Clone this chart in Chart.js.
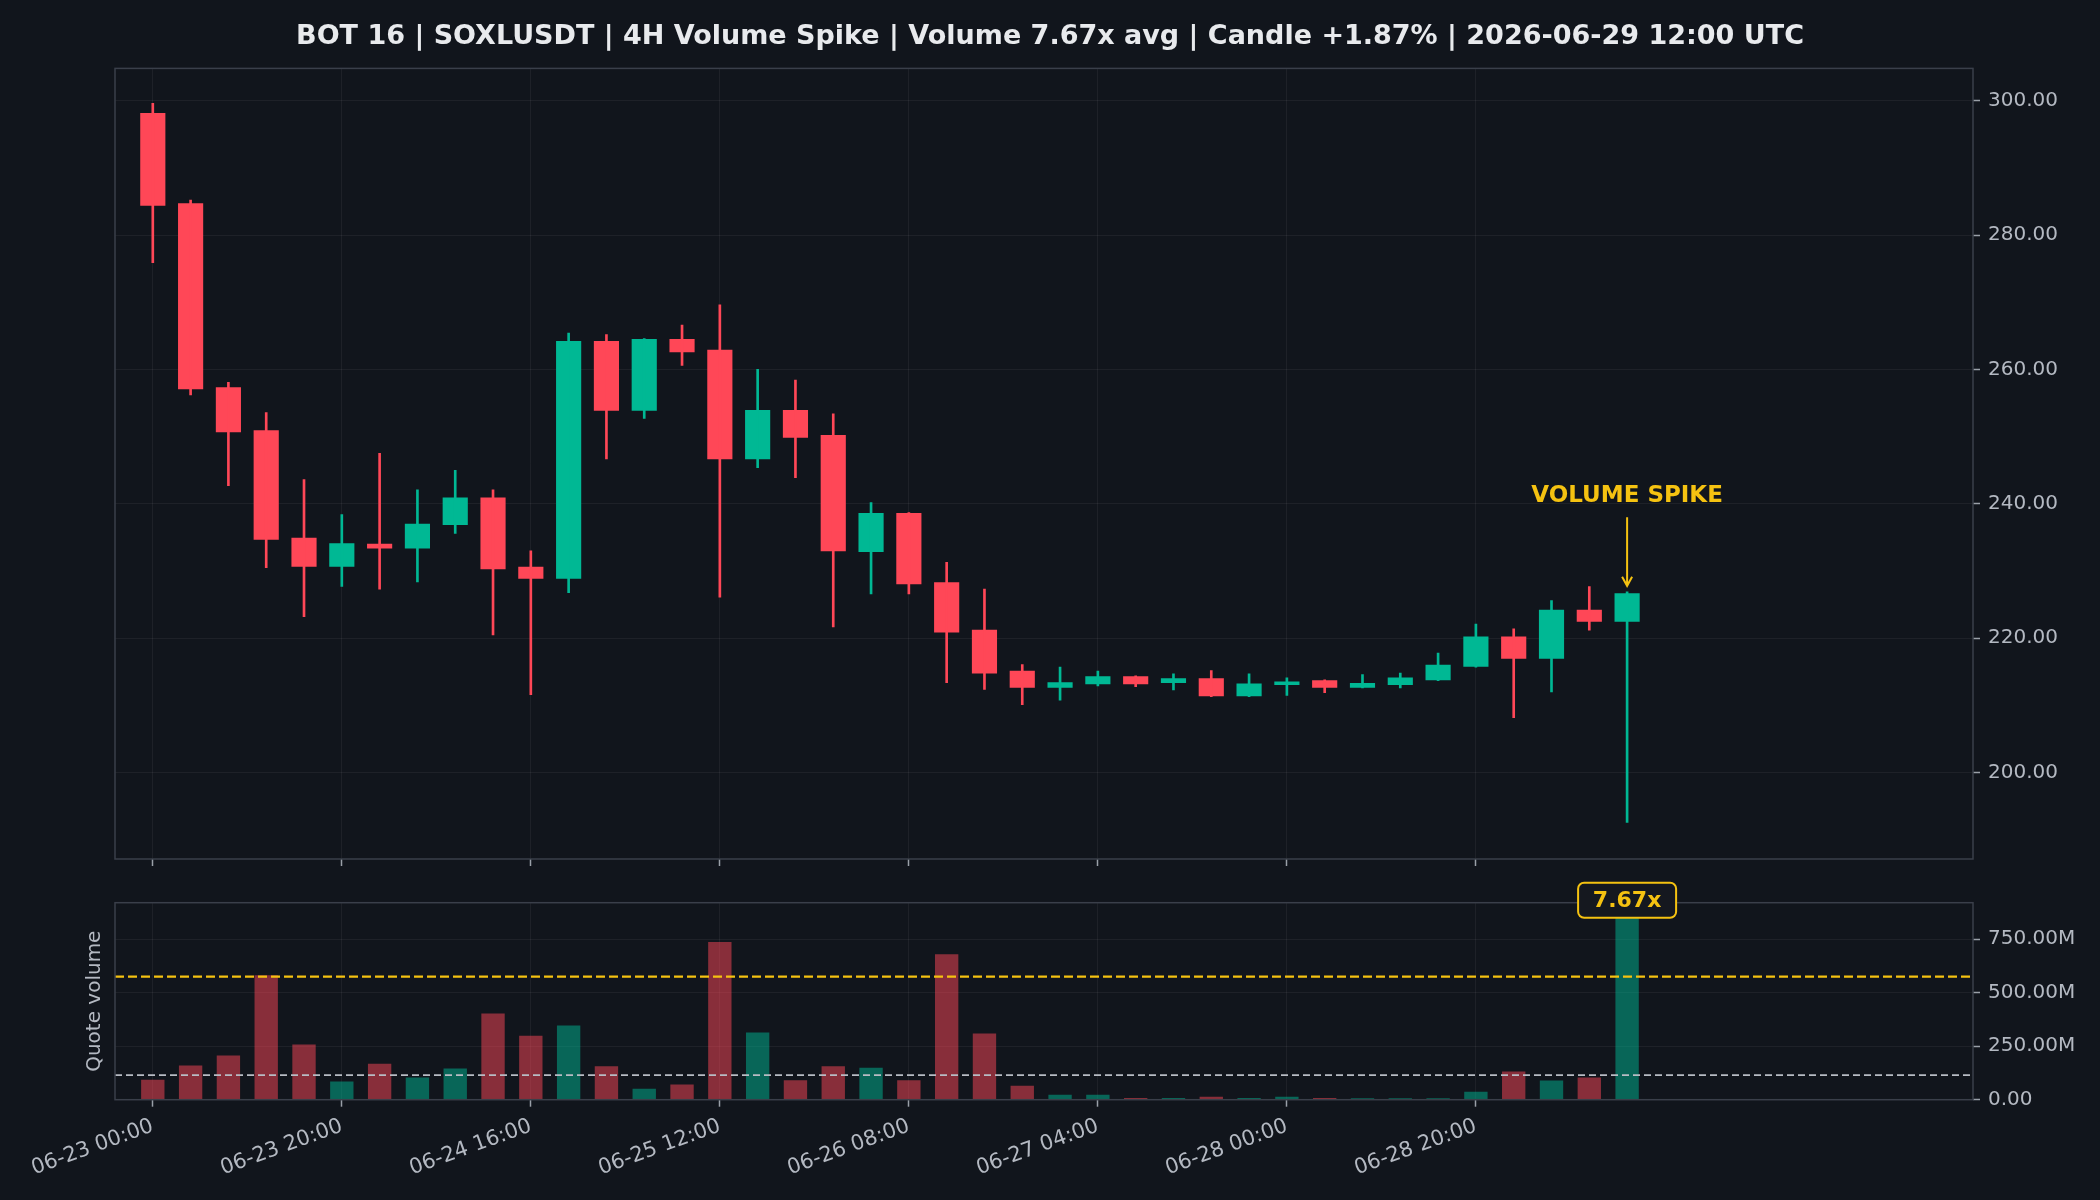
<!DOCTYPE html>
<html>
<head>
<meta charset="utf-8">
<title>SOXLUSDT 4H Volume Spike</title>
<script src="https://cdn.jsdelivr.net/npm/chart.js@4.4.1/dist/chart.umd.min.js"></script>
<style>
  html, body { margin: 0; padding: 0; background: #11151c; }
  #wrap { position: relative; width: 2100px; height: 1200px; }
  #priceChart { position: absolute; left: 0; top: 0; }
  #volumeChart { position: absolute; left: 0; top: 870px; }
</style>
</head>
<body>
<div id="wrap">
  <canvas id="priceChart" width="2100" height="879"></canvas>
  <canvas id="volumeChart" width="2100" height="330"></canvas>
</div>
<script>
// 4H candles, 06-23 00:00 -> 06-29 12:00
const opens  = [298.1, 284.7, 257.3, 250.9, 234.9, 230.7, 234.0, 233.4, 236.9, 240.9,
                230.6, 228.9, 264.2, 253.9, 264.5, 262.9, 246.7, 253.9, 250.2, 232.9,
                238.6, 228.3, 221.2, 215.1, 212.7, 213.2, 214.3, 213.4, 214.0, 211.4,
                213.1, 213.7, 212.7, 213.1, 213.8, 215.8, 220.2, 217.0, 224.2, 222.5];
const highs  = [299.6, 285.2, 258.1, 253.6, 243.6, 238.4, 247.5, 242.1, 245.0, 242.1,
                233.0, 265.4, 265.2, 264.6, 266.6, 269.6, 260.0, 258.4, 253.4, 240.2,
                238.7, 231.3, 227.3, 216.1, 215.7, 215.1, 214.4, 214.7, 215.2, 214.7,
                214.1, 213.8, 214.6, 214.8, 217.8, 222.1, 221.4, 225.6, 227.7, 226.9];
const lows   = [275.9, 256.2, 242.7, 230.5, 223.2, 227.7, 227.3, 228.4, 235.6, 220.5,
                211.6, 226.8, 246.7, 252.7, 260.6, 226.1, 245.4, 243.9, 221.7, 226.6,
                226.6, 213.4, 212.4, 210.1, 210.8, 212.9, 212.8, 212.3, 211.3, 211.3,
                211.5, 211.9, 212.6, 212.6, 213.7, 215.7, 208.2, 212.0, 221.2, 192.6];
const closes = [284.4, 257.1, 250.7, 234.7, 230.7, 234.1, 233.4, 237.0, 240.9, 230.3,
                228.9, 264.2, 253.9, 264.5, 262.6, 246.7, 253.9, 249.9, 233.0, 238.6,
                228.1, 220.9, 214.8, 212.7, 213.4, 214.3, 213.2, 214.0, 211.4, 213.2,
                213.5, 212.7, 213.3, 214.1, 216.0, 220.2, 217.0, 224.2, 222.5, 226.66];

// quote volume, millions
const volumes = [92, 158, 205, 580, 256, 83, 167, 102, 144, 402,
                 298, 345, 155, 50, 69, 736, 313, 89, 155, 148,
                 89, 678, 308, 64, 22, 22, 6, 6, 12, 6,
                 12, 6, 5, 5, 5, 36, 130, 88, 102, 882];

const tickIndex  = [0, 5, 10, 15, 20, 25, 30, 35];
const tickLabels = ["06-23 00:00", "06-23 20:00", "06-24 16:00", "06-25 12:00",
                    "06-26 08:00", "06-27 04:00", "06-28 00:00", "06-28 20:00"];
const priceTicks  = [200, 220, 240, 260, 280, 300];
const volumeTicks = [0, 250, 500, 750];

const avgVolume = 115;
const spikeLevel = 575;
const spikeIndex = 39;
const spikeRatio = "7.67x";
const spikeTextPrice = 241.1;
const arrowFrom = 238.0;
const arrowTo = 227.8;

const titleText = "BOT 16 | SOXLUSDT | 4H Volume Spike | Volume 7.67x avg | Candle +1.87% | 2026-06-29 12:00 UTC";

const UP = '#00b894';
const DOWN = '#ff4757';
const UP_VOL = 'rgba(0, 184, 148, 0.5)';
const DOWN_VOL = 'rgba(255, 71, 87, 0.5)';
const YELLOW = '#f5c211';
const GRID = 'rgba(255, 255, 255, 0.055)';
const FRAME = '#3a3f4a';
const LABEL = '#b4b9c2';

Chart.defaults.font.family = '"DejaVu Sans"';
Chart.defaults.font.size = 20;
Chart.defaults.color = LABEL;

const isUp = (i) => closes[i] >= opens[i];

// frame round the plot, like matplotlib spines
const frame = {
    id: 'frame',
    afterDatasetsDraw(chart) {
        const a = chart.chartArea;
        const ctx = chart.ctx;
        ctx.save();
        ctx.strokeStyle = FRAME;
        ctx.lineWidth = 1.5;
        ctx.strokeRect(a.left, a.top, a.right - a.left, a.bottom - a.top);
        ctx.restore();
    }
};

function xAxis(showLabels, height) {
    return {
        type: 'linear',
        min: -1,
        max: 48.15,
        offset: false,
        grid: { color: GRID, offset: false, tickLength: 7, tickColor: '#9aa0a8', tickWidth: 1.5 },
        border: { display: false },
        ticks: {
            display: showLabels,
            autoSkip: false,
            minRotation: 20,
            maxRotation: 20,
            padding: 7,
            font: { size: 21 },
            callback: (v) => tickLabels[tickIndex.indexOf(v)]
        },
        afterBuildTicks: (axis) => { axis.ticks = tickIndex.map(v => ({ value: v })); },
        afterFit: (axis) => { axis.height = height; }
    };
}

function yAxis(min, max, ticks, fmt) {
    return {
        type: 'linear',
        position: 'right',
        min: min,
        max: max,
        beginAtZero: false,
        grid: { color: GRID, tickLength: 7, tickColor: '#9aa0a8', tickWidth: 1.5 },
        border: { display: false },
        ticks: { padding: 8, callback: fmt },
        afterBuildTicks: (axis) => { axis.ticks = ticks.map(v => ({ value: v })); },
        afterFit: (axis) => { axis.width = 127; }
    };
}

// empty left axis, only keeps the plot at the same left edge (and holds a title)
function leftAxis(title) {
    return {
        type: 'linear',
        position: 'left',
        grid: { display: false },
        border: { display: false },
        ticks: { display: false },
        title: {
            display: !!title,
            text: title || '',
            color: LABEL,
            font: { size: 20 },
            padding: { top: 83, bottom: 0 }
        },
        afterFit: (axis) => { axis.width = 115; }
    };
}

// Price panel
const spikeMarker = {
    id: 'spikeMarker',
    afterDatasetsDraw(chart) {
        const ctx = chart.ctx;
        const x = chart.scales.x;
        const y = chart.scales.y;
        const px = x.getPixelForValue(spikeIndex);
        ctx.save();
        ctx.fillStyle = YELLOW;
        ctx.strokeStyle = YELLOW;
        ctx.font = 'bold 23px "DejaVu Sans"';
        ctx.textAlign = 'center';
        ctx.textBaseline = 'middle';
        ctx.fillText('VOLUME SPIKE', px, y.getPixelForValue(spikeTextPrice));

        const y0 = y.getPixelForValue(arrowFrom);
        const y1 = y.getPixelForValue(arrowTo);
        ctx.lineWidth = 2;
        ctx.beginPath();
        ctx.moveTo(px, y0);
        ctx.lineTo(px, y1);
        ctx.moveTo(px - 5, y1 - 9);
        ctx.lineTo(px, y1);
        ctx.lineTo(px + 5, y1 - 9);
        ctx.stroke();
        ctx.restore();
    }
};

new Chart(document.getElementById('priceChart'), {
    type: 'bar',
    data: {
        datasets: [{
            label: 'wick',
            data: lows.map((l, i) => ({ x: i, y: [l, highs[i]] })),
            backgroundColor: lows.map((l, i) => isUp(i) ? UP : DOWN),
            barThickness: 2,
            grouped: false
        }, {
            label: 'body',
            data: opens.map((o, i) => ({ x: i, y: [o, closes[i]] })),
            backgroundColor: opens.map((o, i) => isUp(i) ? UP : DOWN),
            barThickness: 24.5,
            minBarLength: 2,
            grouped: false
        }]
    },
    options: {
        responsive: false,
        animation: false,
        devicePixelRatio: 1,
        layout: { autoPadding: false, padding: 0 },
        plugins: {
            legend: { display: false },
            tooltip: { enabled: false },
            title: {
                display: true,
                text: titleText,
                color: '#e8eaed',
                font: { size: 27, weight: 'bold' },
                padding: { top: 21, bottom: 15 }
            }
        },
        scales: {
            x: xAxis(false, 12.5),
            y: yAxis(187.15, 304.8, priceTicks, (v) => v.toFixed(2)),
            yl: leftAxis(null)
        }
    },
    plugins: [frame, spikeMarker]
});

// Volume panel
const ratioBox = {
    id: 'ratioBox',
    afterDraw(chart) {
        const ctx = chart.ctx;
        const px = chart.scales.x.getPixelForValue(spikeIndex);
        const top = chart.chartArea.top - 20;
        const w = 98, h = 35;
        ctx.save();
        ctx.fillStyle = '#15181f';
        ctx.strokeStyle = YELLOW;
        ctx.lineWidth = 2;
        ctx.beginPath();
        ctx.roundRect(px - w / 2, top, w, h, 6);
        ctx.fill();
        ctx.stroke();
        ctx.fillStyle = YELLOW;
        ctx.font = 'bold 22px "DejaVu Sans"';
        ctx.textAlign = 'center';
        ctx.textBaseline = 'middle';
        ctx.fillText(spikeRatio, px, top + h / 2 + 1);
        ctx.restore();
    }
};

new Chart(document.getElementById('volumeChart'), {
    type: 'bar',
    data: {
        datasets: [{
            label: 'Quote volume',
            data: volumes.map((v, i) => ({ x: i, y: v })),
            backgroundColor: volumes.map((v, i) => isUp(i) ? UP_VOL : DOWN_VOL),
            barThickness: 22.7,
            grouped: false,
            order: 2
        }, {
            type: 'line',
            label: 'avg',
            data: [{ x: -1, y: avgVolume }, { x: 48.15, y: avgVolume }],
            borderColor: '#b8bcc4',
            borderWidth: 1.6,
            borderDash: [7, 4],
            pointRadius: 0,
            order: 1
        }, {
            type: 'line',
            label: 'threshold',
            data: [{ x: -1, y: spikeLevel }, { x: 48.15, y: spikeLevel }],
            borderColor: YELLOW,
            borderWidth: 2.2,
            borderDash: [9, 4],
            pointRadius: 0,
            order: 1
        }]
    },
    options: {
        responsive: false,
        animation: false,
        devicePixelRatio: 1,
        layout: { autoPadding: false, padding: { left: 0, right: 0, top: 32.7, bottom: 0 } },
        plugins: {
            legend: { display: false },
            tooltip: { enabled: false }
        },
        scales: {
            x: xAxis(true, 100.3),
            y: yAxis(0, 921, volumeTicks, (v) => v === 0 ? '0.00' : v.toFixed(2) + 'M'),
            yl: leftAxis('Quote volume')
        }
    },
    plugins: [frame, ratioBox]
});
</script>
</body>
</html>
